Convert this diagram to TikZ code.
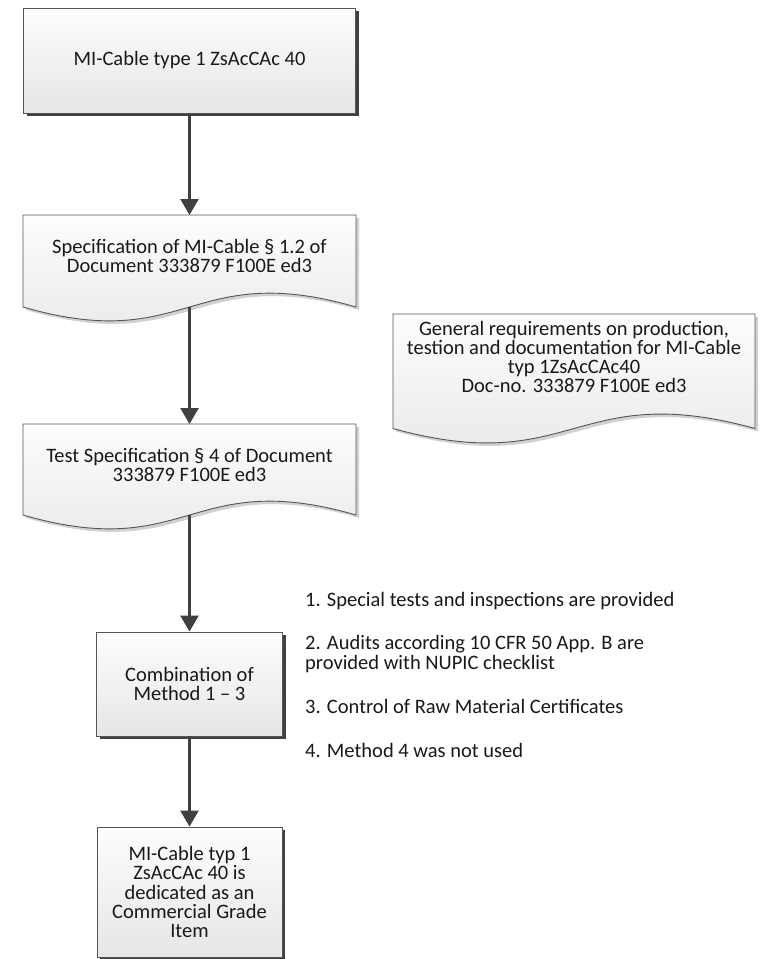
\documentclass[tikz,border=0pt]{standalone}
\usepackage{fontspec}
\setmainfont{Carlito}
\usetikzlibrary{arrows.meta,shadows}

\definecolor{edge}{HTML}{555555}
\definecolor{conn}{HTML}{404040}
\definecolor{boxtop}{HTML}{FDFDFD}
\definecolor{boxbot}{HTML}{E6E6E6}

\tikzset{
  txt/.style={font=\fontsize{20.5}{19.2}\selectfont, text=black!90, align=center, inner sep=0pt},
  procbox/.style={txt, rectangle, draw=edge, line width=0.9pt,
    top color=boxtop, bottom color=boxbot,
    drop shadow={shadow xshift=3pt, shadow yshift=-3pt, fill=black!75, opacity=1}},
  docshape/.style={draw=edge, line width=0.9pt, top color=boxtop, bottom color=boxbot,
    preaction={fill=black!18, transform canvas={shift={(3,3)}}}},
  flow/.style={draw=conn, line width=2.3pt, -{Triangle[length=16pt,width=18pt]}},
  item/.style={font=\fontsize{20.5}{19.2}\selectfont, text=black!90, align=left, inner sep=0pt, anchor=base west}
}

\begin{document}
\begin{tikzpicture}[x=1pt,y=-1pt]
\path[use as bounding box, fill=white] (0,0) rectangle (761,959);

% cable type
\node[procbox, minimum width=332pt, minimum height=105pt] (cable) at (189.5,60.5)
  {MI-Cable type 1 ZsAcCAc 40};

% specification document
\draw[docshape] (23,215) -- (23,307) .. controls (189.5,355) and (189.5,259) .. (356,307) -- (356,215) -- cycle;
\coordinate (spectop) at (189.5,215);
\coordinate (specbot) at (189.5,307);
\node[txt] (spec) at (189.5,256) {Specification of MI-Cable § 1.2 of\\Document 333879 F100E ed3};

% general requirements document
\draw[docshape] (393,314) -- (393,428.5) .. controls (574,478.5) and (574,378.5) .. (755,428.5) -- (755,314) -- cycle;
\node[txt] (req) at (574,357) {General requirements on production,\\testion and documentation for MI-Cable\\typ 1ZsAcCAc40\\Doc-no. 333879 F100E ed3};

% test specification document
\draw[docshape] (23,424) -- (23,515) .. controls (189.5,563) and (189.5,467) .. (356,515) -- (356,424) -- cycle;
\coordinate (testtop) at (189.5,424);
\coordinate (testbot) at (189.5,515);
\node[txt] (test) at (189.5,465) {Test Specification § 4 of Document\\333879 F100E ed3};

% combination of methods
\node[procbox, minimum width=186pt, minimum height=104pt] (combo) at (189.5,684)
  {Combination of\\Method 1 – 3};

% result
\node[procbox, minimum width=185pt, minimum height=130pt] (result) at (189.5,892)
  {MI-Cable typ 1\\ZsAcCAc 40 is\\dedicated as an\\Commercial Grade\\Item};

% method list (base anchor sits on the last line of a node)
\node[item] (m1) at (305,606) {1. Special tests and inspections are provided};
\node[item] (m2) at (305,669) {2. Audits according 10 CFR 50 App. B are\\provided with NUPIC checklist};
\node[item] (m3) at (305,713) {3. Control of Raw Material Certificates};
\node[item] (m4) at (305,757) {4. Method 4 was not used};

% connectors
\draw[flow] (cable) -- (spectop);
\draw[flow] (specbot) -- (testtop);
\draw[flow] (testbot) -- (combo);
\draw[flow] (combo) -- (result);
\end{tikzpicture}
\end{document}
